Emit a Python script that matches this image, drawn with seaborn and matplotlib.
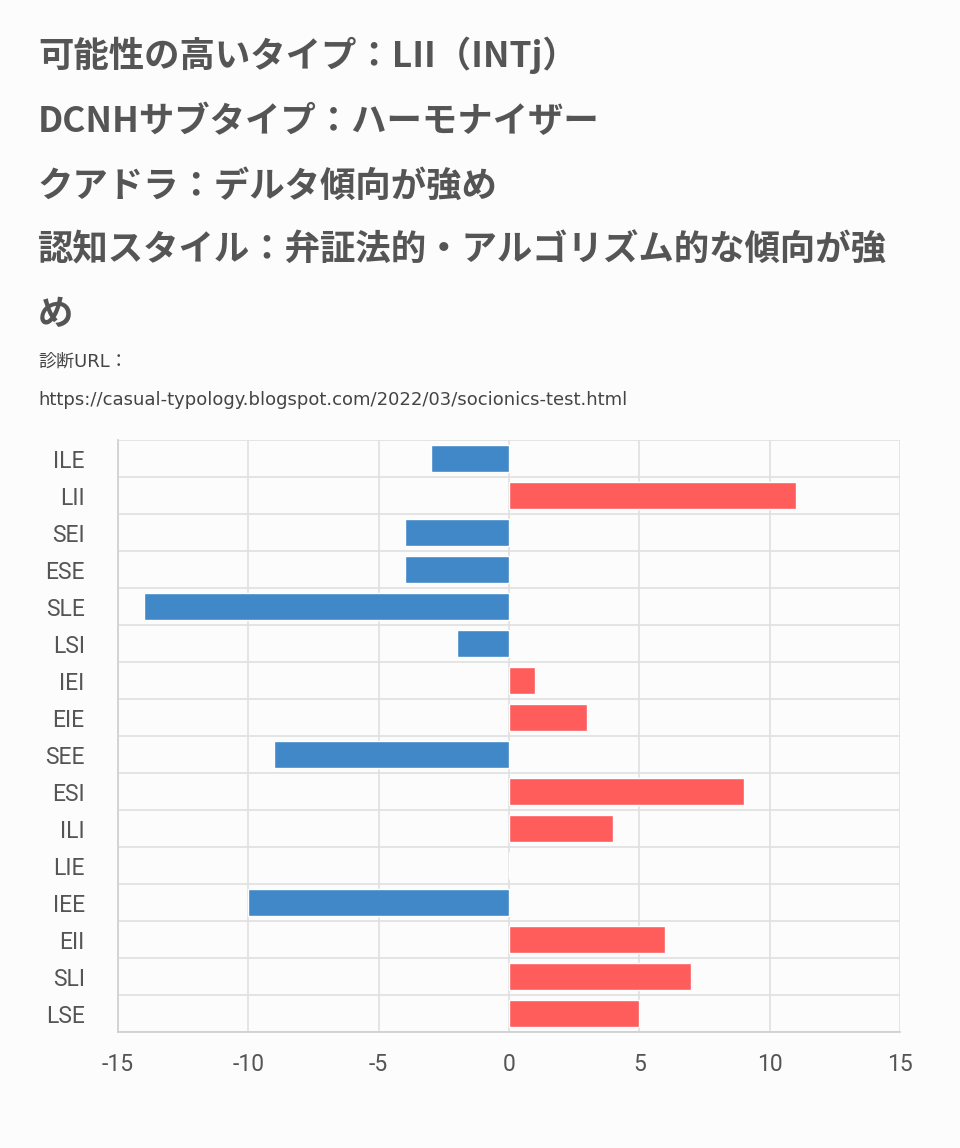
import matplotlib
matplotlib.use("Agg")
import matplotlib.pyplot as plt
import seaborn as sns
import pandas as pd
import numpy as np

types = ["ILE","LII","SEI","ESE","SLE","LSI","IEI","EIE","SEE","ESI","ILI","LIE","IEE","EII","SLI","LSE"]
scores = [-3,11,-4,-4,-14,-2,1,3,-9,9,4,0,-10,6,7,5]
title_lines = ["可能性の高いタイプ：LII（INTj）","DCNHサブタイプ：ハーモナイザー","クアドラ：デルタ傾向が強め",
               "認知スタイル：弁証法的・アルゴリズム的な傾向が強","め"]
url_lines = ["診断URL：","https://casual-typology.blogspot.com/2022/03/socionics-test.html"]
xticks = [-15,-10,-5,0,5,10,15]

sns.set_theme(style="white")
plt.rcParams['font.family'] = ['Noto Sans CJK JP', 'DejaVu Sans']
bg = "#fcfcfc"
fig = plt.figure(figsize=(9.6,11.48), dpi=100, facecolor=bg)
ax = fig.add_axes([0.1229,0.1010,0.8146,0.5157], facecolor=bg)
df = pd.DataFrame({"type":types,"score":scores})
pal = {t:("#ff5c5c" if s>0 else "#4088c8") for t,s in zip(types,scores)}
sns.barplot(data=df, x="score", y="type", hue="type", palette=pal, legend=False,
            width=0.73, saturation=1, ax=ax, zorder=3)
ax.set_xlim(-15,15)
ax.set_ylim(len(types)-0.5,-0.5)
ax.set_xticks(xticks)
ax.set_xticklabels([str(v) for v in xticks], family="Roboto")
ax.set_yticks(range(len(types)))
ax.set_yticklabels(types, family="Roboto")
ax.set_yticks(np.arange(-0.5,len(types),1), minor=True)
ax.tick_params(axis='y', which='major', length=0, pad=24, labelsize=16.5, labelcolor="#555555")
ax.tick_params(axis='y', which='minor', length=18, color="#dddddd", width=1.2)
ax.tick_params(axis='x', length=9, color="#dddddd", width=1.2, labelsize=16.5, labelcolor="#555555", pad=6)
ax.grid(True, axis='x', which='major', color="#e0e0e0", lw=1.2, zorder=0)
ax.grid(True, axis='y', which='minor', color="#e0e0e0", lw=1.2, zorder=0)
for s in ax.spines.values():
    s.set_visible(False)
ax.spines['bottom'].set_visible(True); ax.spines['bottom'].set_color("#d0d0d0")
ax.spines['left'].set_visible(True); ax.spines['left'].set_color("#d0d0d0")
ax.set_xlabel(""); ax.set_ylabel("")
ys = [55,122,186,250,315]
for t,y in zip(title_lines,ys):
    fig.text(38/960, 1-y/1148, t, fontsize=25.5, fontweight='bold', color="#555555", va='center')
for t,y in zip(url_lines,[362,400]):
    fig.text(38/960, 1-y/1148, t, fontsize=13, color="#444444", va='center',
             family=['DejaVu Sans', 'Noto Sans CJK JP'])
fig.savefig("out.png", dpi=100, facecolor=bg)
